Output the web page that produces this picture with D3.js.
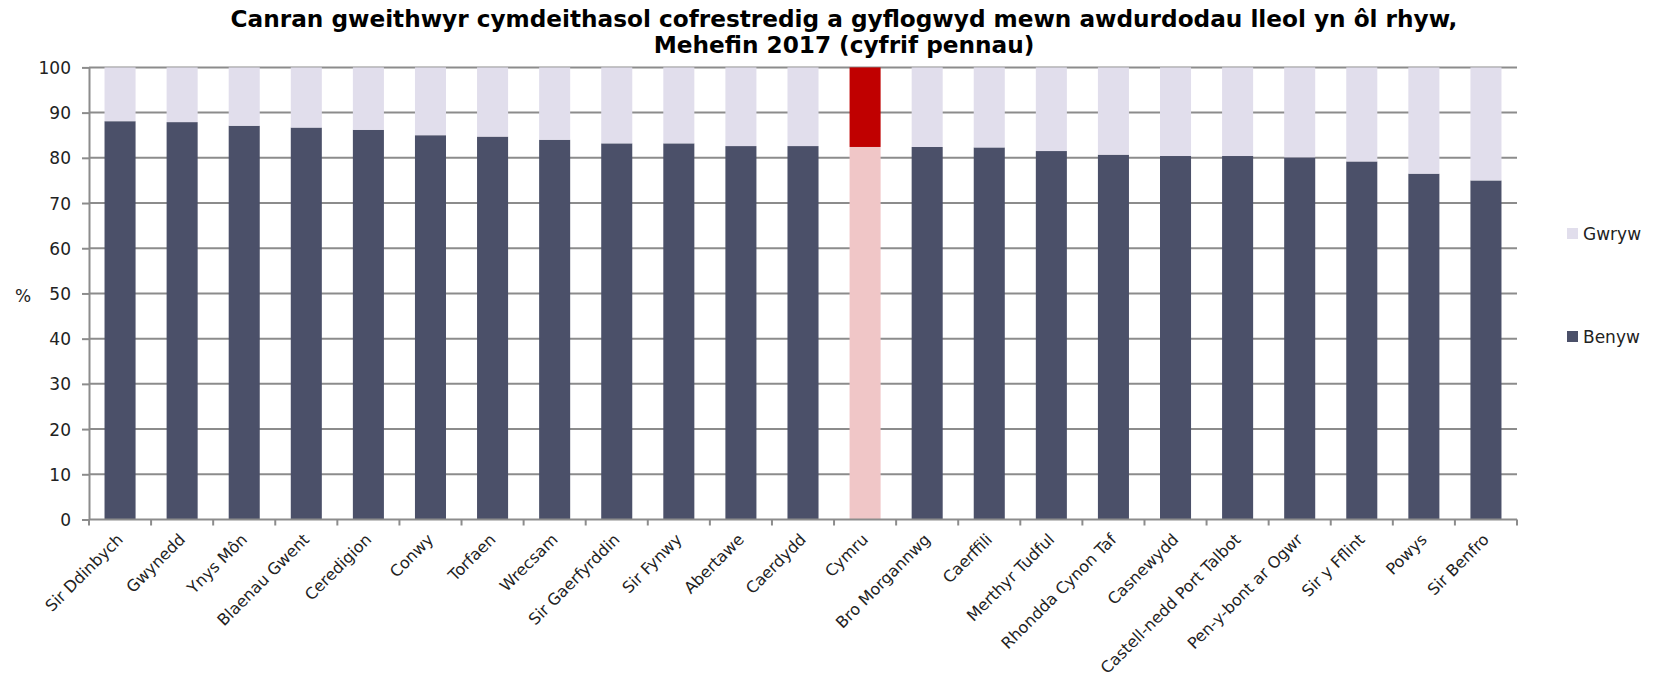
<!DOCTYPE html>
<html><head><meta charset="utf-8">
<script src="https://cdn.jsdelivr.net/npm/d3@7"></script>
<style>body{margin:0;background:#fff}</style>
</head><body>
<svg id="chart" width="1656" height="681"></svg>
<script>
const categories = ["Sir Ddinbych","Gwynedd","Ynys Môn","Blaenau Gwent","Ceredigion","Conwy","Torfaen","Wrecsam","Sir Gaerfyrddin","Sir Fynwy","Abertawe","Caerdydd","Cymru","Bro Morgannwg","Caerffili","Merthyr Tudful","Rhondda Cynon Taf","Casnewydd","Castell-nedd Port Talbot","Pen-y-bont ar Ogwr","Sir y Fflint","Powys","Sir Benfro"];
const benyw = [88.1,87.9,87.1,86.7,86.2,85.0,84.7,84.0,83.2,83.2,82.6,82.6,82.4,82.4,82.3,81.5,80.7,80.4,80.4,80.1,79.2,76.5,75.0];
const gwryw = [11.9,12.1,12.9,13.3,13.8,15.0,15.3,16.0,16.8,16.8,17.4,17.4,17.6,17.6,17.7,18.5,19.3,19.6,19.6,19.9,20.8,23.5,25.0];
const yTicks = [0,10,20,30,40,50,60,70,80,90,100];
const titleLines = ["Canran gweithwyr cymdeithasol cofrestredig a gyflogwyd mewn awdurdodau lleol yn ôl rhyw,","Mehefin 2017 (cyfrif pennau)"];
const seriesNames = ["Gwryw","Benyw"];
const highlight = "Cymru";

const colors = {Benyw:"#4b5069", Gwryw:"#e1deec", hBenyw:"#f0c6c7", hGwryw:"#c00000"};
const svg = d3.select("#chart");
const m = {left:89, right:1517, top:67.4, bottom:519.5};

const x = d3.scaleBand().domain(categories).range([m.left, m.right]).paddingInner(0.5).paddingOuter(0.25);
const xb = d3.scaleBand().domain(categories).range([m.left, m.right]);
const y = d3.scaleLinear().domain([0,100]).range([m.bottom, m.top]);

// gridlines
svg.append("g").selectAll("line").data(yTicks.filter(d=>d>0)).join("line")
  .attr("x1", m.left).attr("x2", m.right)
  .attr("y1", d=>y(d)).attr("y2", d=>y(d))
  .attr("stroke", "#8c8c8c").attr("stroke-width", 2);

const stackData = categories.map((c,i)=>({cat:c, Benyw:benyw[i], Gwryw:gwryw[i]}));
const stack = d3.stack().keys(["Benyw","Gwryw"])(stackData);
svg.append("g").selectAll("g").data(stack).join("g")
  .each(function(s){
    d3.select(this).selectAll("rect").data(s).join("rect")
      .attr("x", d=>x(d.data.cat)).attr("width", x.bandwidth())
      .attr("y", d=>y(d[1])).attr("height", d=>y(d[0])-y(d[1]))
      .attr("fill", d=> d.data.cat===highlight ? (s.key==="Benyw"?colors.hBenyw:colors.hGwryw) : colors[s.key]);
  });

// y axis
const yAxis = d3.axisLeft(y).tickValues(yTicks).tickSize(7).tickSizeOuter(0);
const gy = svg.append("g").attr("transform", `translate(${m.left},0)`).call(yAxis);
gy.select(".domain").attr("stroke","#8c8c8c").attr("stroke-width",2);
gy.selectAll(".tick line").attr("stroke","#8c8c8c").attr("stroke-width",2);
gy.selectAll(".tick text").attr("x",-18).attr("dy","0.36em").attr("font-family","DejaVu Sans").attr("font-size","17px").attr("fill","#222");

// x axis with ticks at band boundaries
const gx = svg.append("g").attr("transform", `translate(0,${m.bottom})`);
gx.append("line").attr("x1", m.left).attr("x2", m.right).attr("stroke","#8c8c8c").attr("stroke-width",2);
const bounds = categories.map(c=>xb(c)).concat([m.right]);
gx.selectAll("line.t").data(bounds).join("line").attr("class","t")
  .attr("x1", d=>d).attr("x2", d=>d).attr("y1",0).attr("y2",6)
  .attr("stroke","#8c8c8c").attr("stroke-width",2);
gx.selectAll("text").data(categories).join("text")
  .attr("transform", d=>`translate(${x(d)+x.bandwidth()/2+4},${21}) rotate(-45)`)
  .attr("text-anchor","end")
  .attr("font-family","DejaVu Sans").attr("font-size","16px").attr("fill","#222")
  .text(d=>d);

// y label
svg.append("text").attr("x",23).attr("y",296).attr("text-anchor","middle").attr("dy","0.35em")
  .attr("font-family","DejaVu Sans").attr("font-size","17px").attr("fill","#222").text("%");

// title
svg.append("g").selectAll("text").data(titleLines).join("text")
  .attr("x",844).attr("y",(d,i)=>27+i*26).attr("text-anchor","middle")
  .attr("font-family","DejaVu Sans").attr("font-weight","bold").attr("font-size","23.2px").attr("fill","#000")
  .text(d=>d);

// legend
const legY = [233.5, 336.5];
const lg = svg.append("g").selectAll("g").data(seriesNames).join("g")
  .attr("transform",(d,i)=>`translate(1567,${legY[i]})`);
lg.append("rect").attr("x",0).attr("y",-5.5).attr("width",11).attr("height",11).attr("fill",d=>colors[d]);
lg.append("text").attr("x",16).attr("dy","0.36em").attr("font-family","DejaVu Sans").attr("font-size","17px").attr("fill","#222").text(d=>d);
</script>
</body></html>
